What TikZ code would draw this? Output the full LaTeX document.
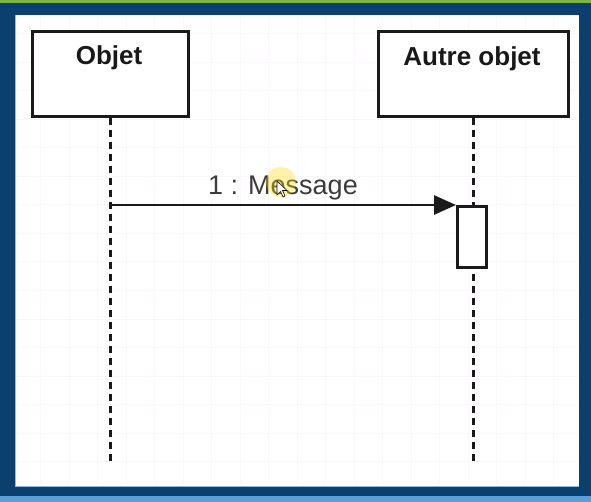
\documentclass[tikz,border=0pt]{standalone}
\usepackage{fontspec}
\setmainfont{Liberation Sans}
\usetikzlibrary{arrows.meta}
\definecolor{frameblue}{HTML}{0B3F6E}
\definecolor{topgreen}{HTML}{7DB843}
\definecolor{botblue}{HTML}{5E9ED6}
\definecolor{gridc}{HTML}{FBF6FB}
\definecolor{linec}{HTML}{1A1A1A}
\definecolor{txtc}{HTML}{3C3C3C}
\tikzset{
  objbox/.style={draw=linec, line width=3pt, fill=white, rectangle, inner sep=0pt},
  titletext/.style={font=\fontsize{26}{30}\selectfont\bfseries, text=black!90, inner sep=0pt},
  lifeline/.style={draw=linec, line width=3pt, dash pattern=on 7pt off 5pt},
  actbox/.style={draw=linec, line width=3pt, fill=white, rectangle, inner sep=0pt, minimum width=29pt, minimum height=61pt},
  msgarrow/.style={draw=linec, line width=2.8pt, -{Triangle[length=22pt,width=19pt]}},
  msgtext/.style={font=\fontsize{27}{30}\selectfont, text=txtc, inner sep=0pt}
}
\begin{document}
\begin{tikzpicture}[x=1pt,y=-1pt]
\useasboundingbox (0,0) rectangle (591,502);
% frame
\fill[frameblue] (0,0) rectangle (591,502);
\fill[topgreen] (0,0) rectangle (591,3);
\fill[botblue] (0,496) rectangle (591,502);
\fill[white] (15,15) rectangle (579,486);
\draw[botblue!70, line width=1pt] (15.5,15) -- (15.5,486) -- (579,486);
% grid
\begin{scope}
\clip (16,16) rectangle (578,485);
\foreach \i in {0,...,20} {
  \draw[gridc, line width=1pt] ({12.2+28.5*\i},16) -- ({12.2+28.5*\i},485);
  \draw[gridc, line width=1pt] (16,{5.5+28.5*\i}) -- (578,{5.5+28.5*\i});
}
\end{scope}
% boxes
\node[objbox, minimum width=156pt, minimum height=85pt, anchor=north west] (obj) at (31,30) {};
\node[objbox, minimum width=190pt, minimum height=85pt, anchor=north west] (aut) at (377,30) {};
\node[titletext, anchor=base] (objt) at (109,65) {Objet};
\node[titletext, anchor=base] (autt) at (472,66) {Autre objet};
% lifelines
\coordinate (objend) at (110,462);
\coordinate (autend) at (473,462);
\draw[lifeline] (obj.south -| objend) -- (objend);
\draw[lifeline] (aut.south -| autend) -- (autend);
% activation
\node[actbox, anchor=north west] (act) at (456,205) {};
% message
\coordinate (msgstart) at (110,205);
\draw[msgarrow] (msgstart) -- (act.north west);
\node[msgtext, anchor=base] (msg) at (283,195) {1 : Message};
% cursor highlight
\fill[yellow!80!orange, opacity=0.35] (281,182) circle (15pt);
\draw[black, fill=white, line width=0.6pt] (277,181) -- (277,195) -- (280.5,191.5) -- (283,197) -- (285,196) -- (282.5,190.5) -- (287,190.5) -- cycle;
\end{tikzpicture}
\end{document}
